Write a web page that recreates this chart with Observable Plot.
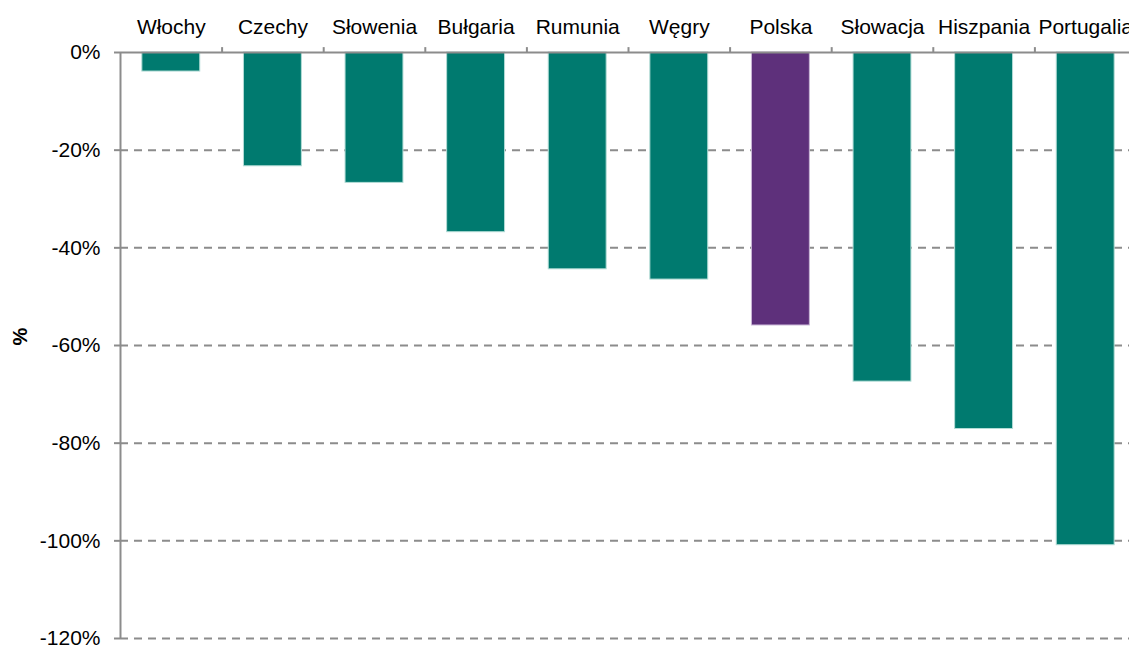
<!DOCTYPE html>
<html>
<head>
<meta charset="utf-8">
<script src="https://cdn.jsdelivr.net/npm/d3@7"></script>
<script src="https://cdn.jsdelivr.net/npm/@observablehq/plot@0.6"></script>
<style>
  html, body { margin: 0; padding: 0; background: #fff; overflow: hidden; }
  #chart { width: 1129px; height: 646px; overflow: hidden; }
</style>
</head>
<body>
<div id="chart"></div>
<script>
const categories = ["Włochy", "Czechy", "Słowenia", "Bułgaria", "Rumunia", "Węgry", "Polska", "Słowacja", "Hiszpania", "Portugalia"];
const values = [-3.9, -23.3, -26.7, -36.8, -44.4, -46.5, -55.9, -67.4, -77.1, -100.9];
const highlight = "Polska";
const yTicks = [0, -20, -40, -60, -80, -100, -120];
const gridTicks = [-20, -40, -60, -80, -100, -120];
const yLabel = "%";

const data = categories.map((c, i) => ({country: c, value: values[i]}));

const width = 1129, height = 646;
const marginLeft = 120, marginRight = -7, marginTop = 52, marginBottom = 8;
const step = (width - marginRight - marginLeft) / categories.length;
const grey = "#8c8c8c";
const font = "'Liberation Sans', Arial, Helvetica, sans-serif";

const chart = Plot.plot({
  width, height, marginLeft, marginRight, marginTop, marginBottom,
  style: {fontFamily: font, fontSize: "21px", color: "#000", background: "#fff"},
  x: {domain: categories, paddingInner: 0.43, paddingOuter: 0.215, round: false, axis: null},
  y: {domain: [-120, 0], axis: null},
  marks: [
    Plot.ruleY(gridTicks, {stroke: grey, strokeWidth: 2, strokeDasharray: "8,6"}),
    Plot.barY(data, {
      x: "country", y: "value",
      fill: d => d.country === highlight ? "#5e307b" : "#007a6f",
      stroke: d => d.country === highlight ? "#c9b6d6" : "#b3dcd6",
      strokeWidth: 1
    }),
    Plot.ruleY([0], {stroke: grey, strokeWidth: 2}),
    Plot.ruleX([categories[0]], {x: d => d, y1: -120, y2: 0, dx: -step / 2, stroke: grey, strokeWidth: 2}),
    Plot.ruleX(categories.slice(1), {x: d => d, y1: 0, y2: 1, dx: -step / 2, stroke: grey, strokeWidth: 2}),
    Plot.axisY(yTicks, {
      anchor: "left", tickSize: 6, tickPadding: 14, stroke: grey, strokeWidth: 2,
      tickFormat: d => d + "%", fontSize: 21, label: null
    }),
    Plot.text(categories, {x: d => d, frameAnchor: "top", lineAnchor: "middle", dy: -25, fontSize: 21, fill: "#000"}),
    Plot.text([yLabel], {text: d => d, frameAnchor: "left", lineAnchor: "middle", dx: -100, rotate: -90, fontWeight: "bold", fontSize: 20, fill: "#000"})
  ]
});
document.getElementById("chart").appendChild(chart);
</script>
</body>
</html>
